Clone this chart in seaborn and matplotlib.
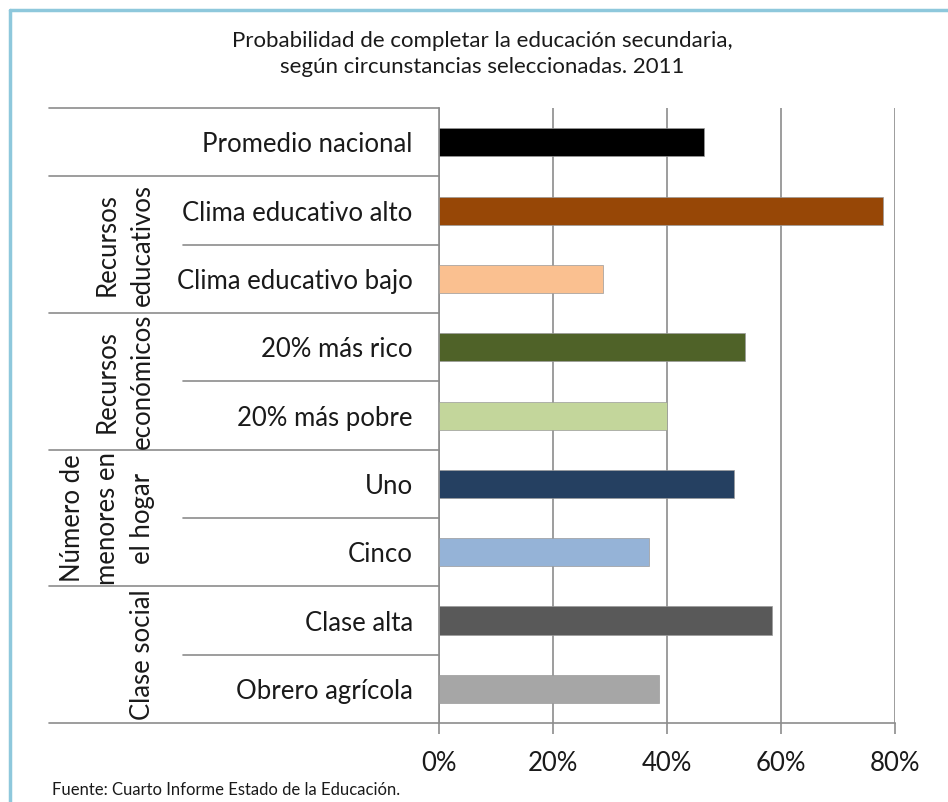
import matplotlib.pyplot as plt
import matplotlib.transforms as mtransforms
from matplotlib.lines import Line2D
import pandas as pd
import seaborn as sns

# datos
categorias = ["Promedio nacional", "Clima educativo alto", "Clima educativo bajo",
              "20% más rico", "20% más pobre", "Uno", "Cinco",
              "Clase alta", "Obrero agrícola"]
valores = [46.5, 77.9, 28.7, 53.8, 40.0, 51.7, 36.9, 58.4, 38.7]
colores = ["#000000", "#974706", "#FAC090", "#4F6228", "#C3D69B",
           "#254061", "#95B3D7", "#595959", "#A6A6A6"]
grupos = ["Recursos\neducativos", "Recursos\neconómicos",
          "Número de\nmenores en\nel hogar", "Clase social"]
grupo_filas = [(1, 2), (3, 4), (5, 6), (7, 8)]  # primera y ultima fila de cada grupo
ticks_x = [0, 20, 40, 60, 80]

titulo = "Probabilidad de completar la educación secundaria,\nsegún circunstancias seleccionadas. 2011"
fuente = "Fuente: Cuarto Informe Estado de la Educación."

df = pd.DataFrame({"categoria": categorias, "valor": valores})

sns.set_style("white")
plt.rcParams['font.family'] = ['Lato', 'DejaVu Sans']

fig = plt.figure(figsize=(9.48, 8.02), dpi=100)
ax = fig.add_axes([0.4631, 0.0985, 0.9438 - 0.4631, 0.8653 - 0.0985])

sns.barplot(data=df, y="categoria", x="valor", hue="categoria",
            palette=colores, saturation=1, legend=False, width=0.41, ax=ax,
            edgecolor="#9a9a9a", linewidth=0.5, zorder=3)

gris = "#8c8c8c"
texto = "#1a1a1a"
ax.set_xlim(0, 80)
ax.set_ylim(len(categorias) - 0.5, -0.5)
ax.set_xticks(ticks_x)
ax.set_xticklabels([f"{t}%" for t in ticks_x], fontsize=18.5, color=texto)
ax.xaxis.grid(True, color=gris, linewidth=1.2, zorder=0)
ax.set_axisbelow(True)
ax.tick_params(axis="x", direction="out", length=8, color=gris, width=1.2, pad=12, bottom=True)
ax.tick_params(axis="y", length=0, pad=19, labelsize=18.5, labelcolor=texto)
ax.set_xlabel("")
ax.set_ylabel("")
for s in ["top", "right"]:
    ax.spines[s].set_visible(False)
for s in ["left", "bottom"]:
    ax.spines[s].set_color(gris)
    ax.spines[s].set_linewidth(1.2)

# tabla de la izquierda (x en fraccion de ejes, y en datos)
trans = mtransforms.blended_transform_factory(ax.transAxes, ax.transData)
x_tabla = -0.855
x_corta = -0.5616
bordes_grupo = [-0.5, 0.5] + [fin + 0.5 for _, fin in grupo_filas]
for yb in bordes_grupo:
    ax.add_line(Line2D([x_tabla, 0], [yb, yb], transform=trans, color=gris,
                       linewidth=1.2, clip_on=False))
for ini, fin in grupo_filas:
    for yb in range(ini, fin):
        ax.add_line(Line2D([x_corta, 0], [yb + 0.5, yb + 0.5], transform=trans,
                           color=gris, linewidth=1.2, clip_on=False))

for nombre, (ini, fin) in zip(grupos, grupo_filas):
    ax.text(-0.624, (ini + fin) / 2, nombre, transform=trans, rotation=90,
            ha="right", va="center", multialignment="center", fontsize=18.5,
            linespacing=1.5, color=texto)

fig.text(482 / 948, 1 - 54 / 802, titulo, ha="center", va="center",
         fontsize=16, linespacing=1.38, color=texto)
fig.text(52 / 948, 1 - 790 / 802, fuente, ha="left", va="center",
         fontsize=12, color=texto)

# marco azul claro
azul = "#8EC8DC"
fig.add_artist(Line2D([10 / 948, 1], [1 - 10 / 802, 1 - 10 / 802],
                      transform=fig.transFigure, color=azul, linewidth=2.5))
fig.add_artist(Line2D([10 / 948, 10 / 948], [0, 1 - 10 / 802],
                      transform=fig.transFigure, color=azul, linewidth=2.5))

fig.savefig("out.png", dpi=100)
